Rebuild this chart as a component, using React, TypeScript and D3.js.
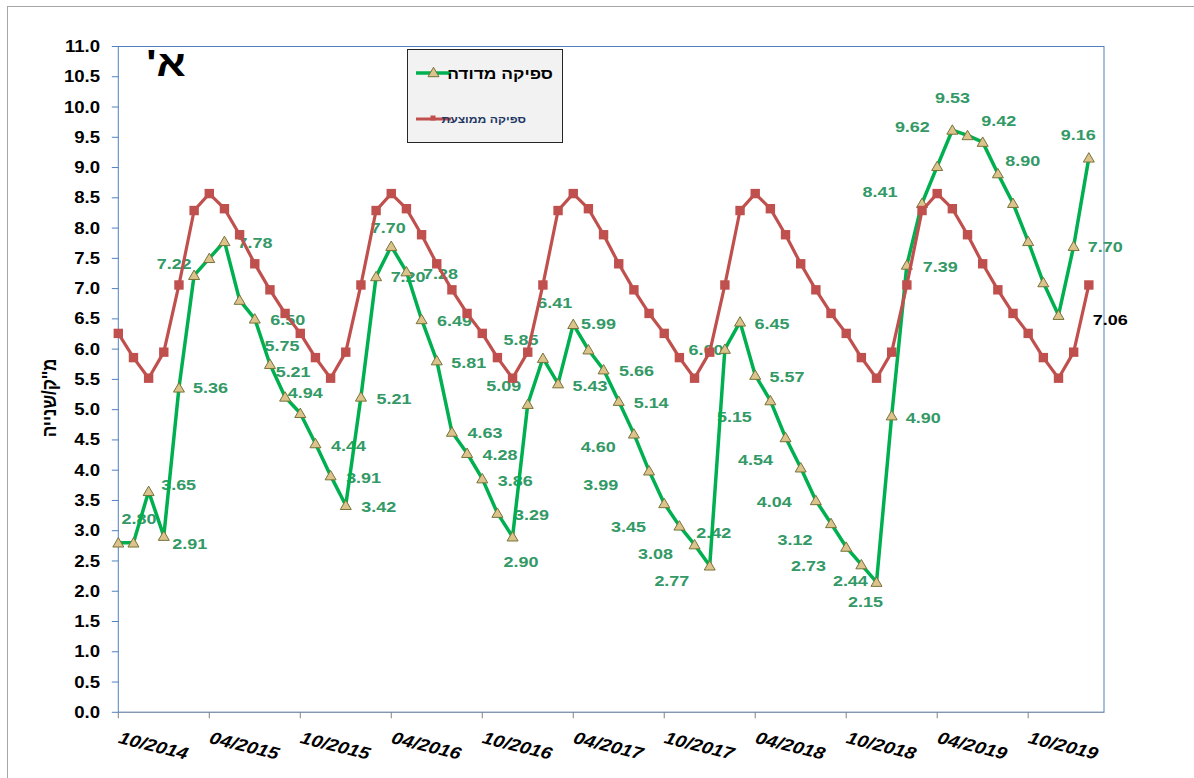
import React from "react";
import * as d3 from "d3";

// Monthly flow series, Oct 2014 .. Feb 2020 (m³/s)
const measuredFlow: number[] = [
  2.80, 2.80, 3.65, 2.91, 5.36, 7.22, 7.50, 7.78, 6.81, 6.50, 5.75, 5.21,
  4.94, 4.44, 3.91, 3.42, 5.21, 7.20, 7.70, 7.28, 6.49, 5.81, 4.63, 4.28,
  3.86, 3.29, 2.90, 5.09, 5.85, 5.43, 6.41, 5.99, 5.66, 5.14, 4.60, 3.99,
  3.45, 3.08, 2.77, 2.42, 6.00, 6.45, 5.57, 5.15, 4.54, 4.04, 3.50, 3.12,
  2.73, 2.44, 2.15, 4.90, 7.39, 8.41, 9.02, 9.62, 9.53, 9.42, 8.90, 8.41,
  7.78, 7.10, 6.56, 7.70, 9.16,
];

const averageFlow: number[] = [
  6.26, 5.86, 5.52, 5.95, 7.06, 8.29, 8.57, 8.32, 7.89, 7.41, 6.98, 6.59,
  6.26, 5.86, 5.52, 5.95, 7.06, 8.29, 8.57, 8.32, 7.89, 7.41, 6.98, 6.59,
  6.26, 5.86, 5.52, 5.95, 7.06, 8.29, 8.57, 8.32, 7.89, 7.41, 6.98, 6.59,
  6.26, 5.86, 5.52, 5.95, 7.06, 8.29, 8.57, 8.32, 7.89, 7.41, 6.98, 6.59,
  6.26, 5.86, 5.52, 5.95, 7.06, 8.29, 8.57, 8.32, 7.89, 7.41, 6.98, 6.59,
  6.26, 5.86, 5.52, 5.95, 7.06,
];

const tickLabels: string[] = [
  "10/2014", "04/2015", "10/2015", "04/2016", "10/2016", "04/2017",
  "10/2017", "04/2018", "10/2018", "04/2019", "10/2019",
];

const seriesNames: string[] = ["ספיקה מדודה", "ספיקה ממוצעת"];
const axisTitle = "מ''ק/שנייה";
const panelTitle = "א'\u200F";

// Which measured points carry a value label, and where the label sits (dx, dy from the point)
const labelNudges: [number, number, number][] = [
  [1, 5.5, -24], [2, 30, -6], [3, 26, 8], [4, 31.5, 0], [5, -20, -11],
  [7, 30.6, 1.5], [9, 33, 1], [10, 12, -18], [11, 8, -25], [12, 5, -20],
  [13, 33, 2], [14, 33, 2], [15, 33, 1.5], [16, 33, 1.5], [17, 32, 0],
  [18, -3, -18], [19, 34, 2], [20, 33, 1.5], [21, 32, 2], [22, 33, 1],
  [23, 33, 2], [24, 33, 2], [25, 34, 2], [26, 8.5, 25], [27, -24, -18],
  [28, -22, -18], [29, 32, 2.5], [30, -18.6, -21], [31, 10, -26], [32, 33, 1.5],
  [33, 32.4, 1.6], [34, -35.7, 13.5], [35, -48.4, 14.3], [36, -35.7, 23.3],
  [37, -24, 28.5], [38, -22.7, 36], [39, 4, -32.5], [40, -19, 1],
  [41, 32, 1.6], [42, 31.7, 1.7], [43, -36, 16], [44, -30, 22.6],
  [45, -26.5, 34], [47, -36, 16.6], [48, -37.7, 18.7], [49, -11, 16.4],
  [50, -11, 19.6], [51, 31.6, 2.4], [52, 33.4, 2], [53, -42, -11],
  [55, -40, -3], [56, -15, -38], [57, 16, -21], [58, 25, -13],
  [63, 31.6, 1], [64, -10.5, -23],
];
const avgLabelNudge: [number, number, number] = [64, 21.5, 35];

const W = 1194;
const H = 778;
const FONT = "'Liberation Sans', Arial, 'DejaVu Sans', sans-serif";
const STRETCH = 1.16;

const GREEN = "#00b050";
const RED = "#c0504d";
const LABEL_GREEN = "#339966";
const AXIS_BLUE = "#4f81bd";

type TProps = {
  x: number;
  y: number;
  size: number;
  anchor?: "start" | "middle" | "end";
  fill?: string;
  italic?: boolean;
  weight?: string;
  rotate?: number;
  children: React.ReactNode;
};

function SText({ x, y, size, anchor = "middle", fill = "#000", italic, weight = "bold", rotate, children }: TProps) {
  const t = `translate(${x},${y}) scale(${STRETCH},1)` + (rotate ? ` rotate(${rotate})` : "");
  return (
    <text
      transform={t}
      fontSize={size}
      fontFamily={FONT}
      fontWeight={weight}
      fontStyle={italic ? "italic" : "normal"}
      textAnchor={anchor}
      dominantBaseline="central"
      fill={fill}
    >
      {children}
    </text>
  );
}

function triPath(cx: number, cy: number) {
  return `M${cx},${cy - 5.2}L${cx + 5.5},${cy + 4.2}L${cx - 5.5},${cy + 4.2}Z`;
}

export default function App() {
  const x = d3.scaleLinear().domain([0, 65]).range([118.3, 1104]);
  const y = d3.scaleLinear().domain([0, 11]).range([712.3, 46.5]);

  const line = d3
    .line<number>()
    .x((_, i) => x(i))
    .y((v) => y(v));

  const yTicks = d3.range(0, 11.001, 0.5);
  const fmt = d3.format(".1f");

  return (
    <svg width={W} height={H} style={{ position: "absolute", left: 0, top: 0, background: "#fff" }}>
      <rect x={0} y={0} width={W} height={H} fill="#fff" />
      {/* chart frame */}
      <rect x={7.5} y={6.5} width={W + 20} height={H + 20} fill="none" stroke="#a6a6a6" strokeWidth={1} />

      {/* plot frame */}
      <rect
        x={x(0)}
        y={y(11)}
        width={x(65) - x(0)}
        height={y(0) - y(11)}
        fill="none"
        stroke={AXIS_BLUE}
        strokeWidth={1}
      />
      <line x1={x(0)} x2={x(65)} y1={y(0)} y2={y(0)} stroke="#8497b0" strokeWidth={1.2} />

      {/* y axis ticks and labels */}
      {yTicks.map((t) => (
        <g key={t}>
          <line x1={x(0) - 6.5} x2={x(0)} y1={y(t)} y2={y(t)} stroke={AXIS_BLUE} strokeWidth={1} />
          <SText x={100} y={y(t)} size={16} anchor="end">
            {fmt(t)}
          </SText>
        </g>
      ))}

      {/* x axis ticks and labels */}
      {tickLabels.map((lab, k) => {
        const xi = x(k * 6);
        return (
          <g key={lab}>
            <line x1={xi} x2={xi} y1={y(0)} y2={y(0) + 6} stroke="#808080" strokeWidth={1} />
            <SText x={xi + 1} y={737} size={17} anchor="start" italic rotate={16}>
              {lab}
            </SText>
          </g>
        );
      })}

      {/* axis title */}
      <SText x={49} y={398} size={17} rotate={-90}>
        {axisTitle}
      </SText>

      {/* value labels of the measured series */}
      {labelNudges.map(([i, dx, dy]) => (
        <SText key={i} x={x(i) + dx} y={y(measuredFlow[i]) + dy} size={15.5} fill={LABEL_GREEN}>
          {measuredFlow[i].toFixed(2)}
        </SText>
      ))}

      {/* measured series */}
      <path d={line(measuredFlow) ?? ""} fill="none" stroke={GREEN} strokeWidth={3.5} strokeLinejoin="round" />
      {measuredFlow.map((v, i) => (
        <path key={i} d={triPath(x(i), y(v))} fill="#dcc38c" stroke="#76733a" strokeWidth={1} />
      ))}

      {/* average series */}
      <path d={line(averageFlow) ?? ""} fill="none" stroke={RED} strokeWidth={3.2} strokeLinejoin="round" />
      {averageFlow.map((v, i) => (
        <rect key={i} x={x(i) - 4.7} y={y(v) - 4.7} width={9.4} height={9.4} fill={RED} />
      ))}
      <SText
        x={x(avgLabelNudge[0]) + avgLabelNudge[1]}
        y={y(averageFlow[avgLabelNudge[0]]) + avgLabelNudge[2]}
        size={15.5}
        fill="#000"
      >
        {averageFlow[avgLabelNudge[0]].toFixed(2)}
      </SText>

      {/* panel title */}
      <SText x={166} y={63} size={37}>
        {panelTitle}
      </SText>

      {/* legend */}
      <rect x={407.5} y={49.5} width={155} height={93} fill="#f2f2f2" stroke="#262626" strokeWidth={1} />
      <line x1={416} x2={451} y1={73} y2={73} stroke={GREEN} strokeWidth={3.5} />
      <path d={triPath(433.5, 72.5)} fill="#dcc38c" stroke="#76733a" strokeWidth={1} />
      <SText x={553} y={73} size={15} anchor="end">
        {seriesNames[0]}
      </SText>
      <line x1={416} x2={451} y1={119} y2={119} stroke={RED} strokeWidth={3} />
      <rect x={430.5} y={115.5} width={5} height={5} fill={RED} />
      <SText x={526} y={119.5} size={10.5} anchor="end" fill="#1f3864">
        {seriesNames[1]}
      </SText>
    </svg>
  );
}
